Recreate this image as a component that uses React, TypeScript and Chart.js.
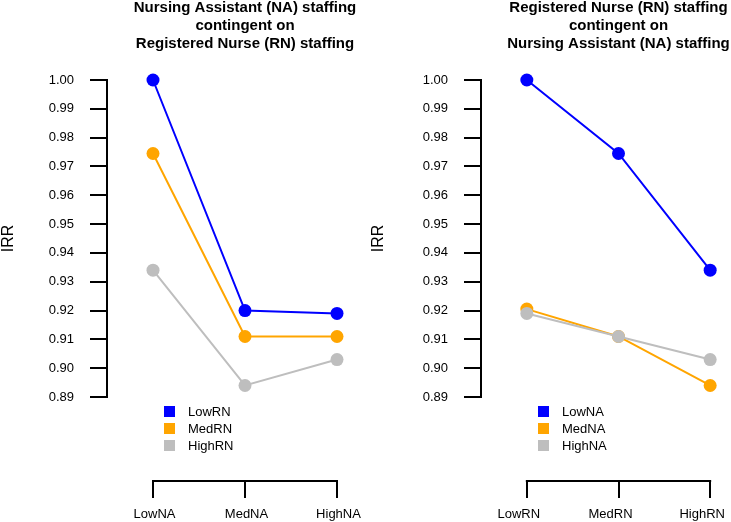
import React, { useEffect, useRef } from "react";
import { Chart, registerables } from "chart.js";

Chart.register(...registerables);

// ---------- data ----------
const naLevels = ["LowNA", "MedNA", "HighNA"];
const rnLevels = ["LowRN", "MedRN", "HighRN"];

// Left panel: IRR across NA levels, one line per RN level
const lowRNbyNA = [1.0, 0.92, 0.919];
const medRNbyNA = [0.9745, 0.911, 0.911];
const highRNbyNA = [0.934, 0.894, 0.903];

// Right panel: IRR across RN levels, one line per NA level
const lowNAbyRN = [1.0, 0.9745, 0.934];
const medNAbyRN = [0.9205, 0.911, 0.894];
const highNAbyRN = [0.919, 0.911, 0.903];

const yTicks = [0.89, 0.9, 0.91, 0.92, 0.93, 0.94, 0.95, 0.96, 0.97, 0.98, 0.99, 1.0];
const yMin = 0.89;
const yMax = 1.0;
const xAxisAtValue = 0.86085; // y-value where the detached x axis sits

const leftTitle = [
  "Nursing Assistant (NA) staffing",
  "contingent on",
  "Registered Nurse (RN) staffing",
];
const rightTitle = [
  "Registered Nurse (RN) staffing",
  "contingent on",
  "Nursing Assistant (NA) staffing",
];

const seriesColors = ["#0000FF", "#FFA500", "#BEBEBE"];

// ---------- layout ----------
const H = 522;
const FONT = '"Liberation Sans", Arial, Helvetica, sans-serif';

const bracketPlugin = {
  id: "bracketAxis",
  afterDraw(chart: any) {
    const x = chart.scales.x;
    const y = chart.scales.y;
    const pos = x.options.position;
    const py = Math.round(y.getPixelForValue(pos.y));
    const n = x.ticks.length;
    const ctx = chart.ctx;
    ctx.save();
    ctx.strokeStyle = "#000";
    ctx.lineWidth = 2;
    ctx.beginPath();
    ctx.moveTo(x.getPixelForTick(0) - 1, py);
    ctx.lineTo(x.getPixelForTick(n - 1) + 1, py);
    ctx.stroke();
    ctx.restore();
  },
};

type PanelProps = {
  left: number;
  width: number;
  yWidth: number;
  padRight: number;
  categories: string[];
  names: string[];
  series: number[][];
  title: string[];
  labelOffset: number;
};

function Panel(p: PanelProps) {
  const ref = useRef<HTMLCanvasElement>(null);
  useEffect(() => {
    const n = p.series.length;
    const chart = new Chart(ref.current as HTMLCanvasElement, {
      type: "line",
      data: {
        labels: p.categories,
        datasets: p.series.map((s, i) => ({
          label: p.names[i],
          data: s,
          borderColor: seriesColors[i],
          backgroundColor: seriesColors[i],
          pointBackgroundColor: seriesColors[i],
          pointBorderColor: seriesColors[i],
          pointBorderWidth: 0,
          pointRadius: 6.5,
          borderWidth: 2,
          tension: 0,
          fill: false,
          clip: false as any,
          order: n - 1 - i,
        })),
      },
      options: {
        responsive: false,
        animation: false,
        events: [],
        layout: { padding: { left: 0, right: p.padRight, top: 0, bottom: H - 397 } },
        plugins: {
          legend: { display: false },
          tooltip: { enabled: false },
          title: {
            display: true,
            text: p.title,
            fullSize: false,
            color: "#000",
            font: { family: FONT, size: 15, weight: "bold", lineHeight: 1.22 },
            padding: { top: -1.5, bottom: 26.6 },
          },
        },
        scales: {
          x: {
            type: "category",
            offset: true,
            position: { y: xAxisAtValue } as any,
            border: { display: false },
            grid: {
              offset: false,
              drawOnChartArea: false,
              drawTicks: true,
              tickLength: 17,
              color: "#000",
              lineWidth: 2,
            },
            ticks: {
              color: "#000",
              padding: 9,
              labelOffset: p.labelOffset,
              maxRotation: 0,
              autoSkip: false,
              font: { family: FONT, size: 13 },
            },
          },
          y: {
            type: "linear",
            position: "left",
            min: yMin,
            max: yMax,
            afterBuildTicks: (s: any) => {
              s.ticks = yTicks.map((v) => ({ value: v }));
            },
            afterFit: (s: any) => {
              s.width = p.yWidth;
            },
            border: { display: true, color: "#000", width: 2 },
            grid: {
              drawOnChartArea: false,
              drawTicks: true,
              tickLength: 17,
              color: "#000",
              lineWidth: 2,
            },
            ticks: {
              color: "#000",
              padding: 16,
              font: { family: FONT, size: 13 },
              callback: (v: any) => Number(v).toFixed(2),
            },
            title: {
              display: true,
              text: "IRR",
              color: "#000",
              font: { family: FONT, size: 16 },
              padding: { top: -1, bottom: 0 },
            },
          },
        },
      },
      plugins: [bracketPlugin],
    } as any);
    return () => chart.destroy();
  }, []);

  const legendLeft = p.yWidth + 57;
  return (
    <div style={{ position: "absolute", left: p.left, top: 0, width: p.width, height: H }}>
      <canvas ref={ref} width={p.width} height={H} style={{ display: "block" }} />
      <div
        style={{
          position: "absolute",
          left: legendLeft,
          top: 403,
          fontFamily: FONT,
          fontSize: 13,
          color: "#000",
          lineHeight: "17px",
        }}
      >
        {p.names.map((nm, i) => (
          <div key={nm} style={{ display: "flex", alignItems: "center", height: 17 }}>
            <span
              style={{
                display: "inline-block",
                width: 11,
                height: 11,
                background: seriesColors[i],
                marginRight: 13,
              }}
            />
            <span>{nm}</span>
          </div>
        ))}
      </div>
    </div>
  );
}

export default function App() {
  return (
    <div
      style={{
        position: "absolute",
        left: 0,
        top: 0,
        width: 731,
        height: H,
        overflow: "hidden",
        background: "#fff",
      }}
    >
      <Panel
        left={0}
        width={403}
        yWidth={107}
        padRight={20}
        categories={naLevels}
        names={rnLevels}
        series={[lowRNbyNA, medRNbyNA, highRNbyNA]}
        title={leftTitle}
        labelOffset={1.5}
      />
      <Panel
        left={370}
        width={406}
        yWidth={111}
        padRight={20}
        categories={rnLevels}
        names={naLevels}
        series={[lowNAbyRN, medNAbyRN, highNAbyRN]}
        title={rightTitle}
        labelOffset={-8}
      />
    </div>
  );
}
